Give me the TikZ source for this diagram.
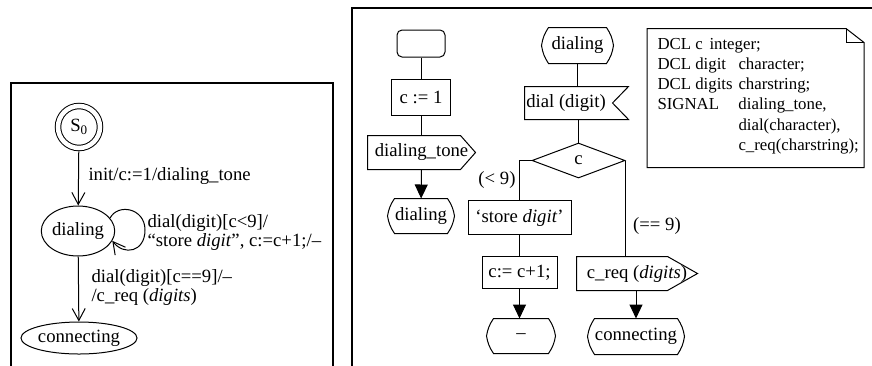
\documentclass[tikz,border=0pt]{standalone}
\usepackage{fontspec}
\setmainfont{Liberation Serif}
\usetikzlibrary{arrows.meta,shapes.geometric}
\newcommand\sdlstate[1]{\draw ([xshift=7pt]#1.north west) -- ([xshift=-7pt]#1.north east) to[bend left=12] (#1.east) to[bend left=12] ([xshift=-7pt]#1.south east) -- ([xshift=7pt]#1.south west) to[bend left=12] (#1.west) to[bend left=12] ([xshift=7pt]#1.north west) -- cycle;}
\newcommand\sdlout[2]{\draw (#1.north west) -- ([xshift=-#2]#1.north east) -- (#1.east) -- ([xshift=-#2]#1.south east) -- (#1.south west) -- cycle;}
\newcommand\sdlin[2]{\draw (#1.north west) -- (#1.north east) -- ([xshift=-#2]#1.east) -- (#1.south east) -- (#1.south west) -- cycle;}
\begin{document}
\begin{tikzpicture}[x=1pt,y=-1pt,line width=1pt,
  every node/.style={font=\fontsize{18.7}{19.5}\selectfont,inner sep=0pt},
  sdl/.style={rectangle,minimum width=#1},
  boxn/.style={draw,rectangle,minimum width=#1},
  fa/.style={-{Triangle[length=14pt,width=13pt]}},
  oa/.style={-{Straight Barb[length=12pt,width=13pt]}},
  lbl/.style={anchor=west,align=left}]
\useasboundingbox (0,0) rectangle (872,365);
\clip (0,0) rectangle (872,365);

% ---------- left frame: state machine ----------
\draw[line width=1.3pt] (11,83) rectangle (333,400);
\node[circle,draw,double,double distance=4.5pt,minimum size=42pt,outer sep=3.4pt] (s0) at (79,127) {S\textsubscript{0}};
\node[ellipse,draw,minimum width=66pt,minimum height=50pt] (dial) at (78,231) {dialing};
\node[ellipse,draw,minimum width=96pt,minimum height=32pt] (conn) at (79,338) {connecting};

\draw[oa] (s0) -- (dial);
\node[lbl] (l1) at (88,176) {init/c:=1/dialing\_tone};
\draw[oa] (dial.22) .. controls (118,203) and (145,208) .. (145,230) .. controls (145,252) and (124,256) .. (dial.-16);
\node[lbl] (l2) at (147,232.5) {dial(digit)[c<9]/\\“store \textit{digit}”, c:=c+1;/–};
\draw[oa] (dial) -- (conn);
\node[lbl] (l3) at (91,287.5) {dial(digit)[c==9]/–\\/c\_req (\textit{digits})};

% ---------- right frame: SDL process ----------
\draw[line width=1.3pt] (352,8) rectangle (900,400);

% column 1
\node[draw,rectangle,rounded corners=5pt,minimum width=48pt,minimum height=27pt] (start) at (421,43.5) {};
\node[boxn=59pt,minimum height=36pt] (c1) at (421,97.5) {c := 1};
\node[sdl=107pt,minimum height=33pt] (dtone) at (421.5,152.5) {dialing\_tone};
\sdlout{dtone}{15pt}
\node[sdl=66pt,minimum height=34pt] (st1) at (421,216) {dialing};
\sdlstate{st1}
\draw (start) -- (c1);
\draw (c1) -- (c1 |- dtone.north);
\draw[fa] (dtone) -- (st1);

% column 2
\node[sdl=71pt,minimum height=35pt] (st2) at (577.5,45.5) {dialing};
\sdlstate{st2}
\node[sdl=103pt,minimum height=32pt] (inp) at (576.5,103) {};
\sdlin{inp}{16pt}
\node (inptxt) at (566,103) {dial (digit)};
\node[diamond,draw,minimum width=93pt,minimum height=35pt] (dia) at (578.5,160.5) {c};
\node[boxn=103pt,minimum height=34pt] (store) at (519.5,217.5) {‘store \textit{digit}’};
\node[boxn=75pt,minimum height=32pt] (cinc) at (519.5,272.5) {c:= c+1;};
\node[sdl=68pt,minimum height=34pt] (dash) at (521,336) {–};
\sdlstate{dash}
\node[sdl=120pt,minimum height=33pt] (creq) at (637,273.5) {c\_req (\textit{digits})};
\sdlout{creq}{30pt}
\node[sdl=96pt,minimum height=35pt] (conn2) at (636,336.5) {connecting};
\sdlstate{conn2}

\draw (st2) -- (st2 |- inp.north);
\draw (inp.south -| dia.north) -- (dia.north);
\draw (dia.west) -| (store.north);
\node (lt) at (497,180) {(< 9)};
\draw (dia.east) -- (dia.east |- creq.north);
\node (eq) at (657,226) {(== 9)};
\draw (store) -- (cinc);
\draw[fa] (cinc) -- (cinc |- dash.north);
\draw[fa] (creq.south -| conn2.north) -- (conn2.north);

% note
\node[sdl=216pt,minimum height=138pt] (note) at (755.5,98) {};
\draw (note.north west) -- ([xshift=-18pt]note.north east) -- ([yshift=-14pt]note.north east) -- (note.south east) -- (note.south west) -- cycle;
\draw ([xshift=-18pt]note.north east) -- ([xshift=-18pt,yshift=-14pt]note.north east) -- ([yshift=-14pt]note.north east);
\node[anchor=north west,align=left,font=\fontsize{16.8}{20.1}\selectfont] (decl) at (657,38) {%
\makebox[52pt][l]{DCL c}integer;\\
\makebox[81pt][l]{DCL digit}character;\\
\makebox[81pt][l]{DCL digits}charstring;\\
\makebox[81pt][l]{SIGNAL}dialing\_tone,\\
\makebox[81pt][l]{}dial(character),\\
\makebox[81pt][l]{}c\_req(charstring);};
\end{tikzpicture}
\end{document}
